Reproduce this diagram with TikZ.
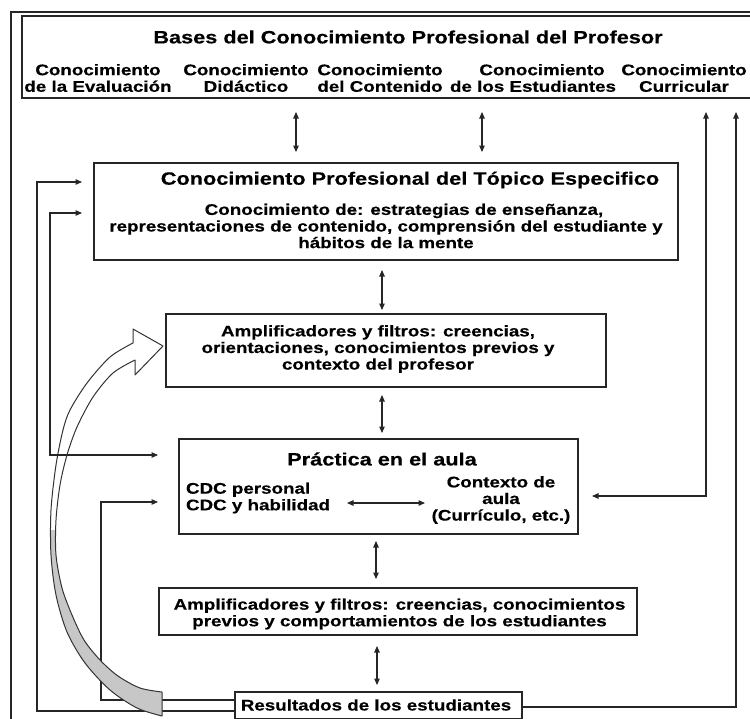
\documentclass[tikz,border=0pt]{standalone}
\usepackage{fontspec}
\setmainfont{Liberation Sans}[FakeStretch=1.22, BoldFeatures={FakeBold=0.4}]
\usetikzlibrary{arrows.meta}
\begin{document}
\begin{tikzpicture}[x=1pt,y=-1pt,
  every node/.style={inner sep=0pt, outer sep=0pt},
  box/.style={draw=black!85, line width=1.1pt, rectangle},
  txt/.style={font=\bfseries\fontsize{15.4}{16.6}\selectfont, align=center, text=black},
  ttl/.style={font=\bfseries\fontsize{17.8}{20}\selectfont, text=black},
  conn/.style={draw=black!85, line width=1.1pt},
  arr/.style={conn, -{Triangle[length=6.5pt,width=5.5pt]}},
  dbl/.style={conn, {Triangle[length=6.5pt,width=5.5pt]}-{Triangle[length=6.5pt,width=5.5pt]}},
]
\useasboundingbox (0,0) rectangle (750,718);
\clip (0,0) rectangle (750,718);
\def\cvarrowshape{(163,346) -- (133,329) -- plot[smooth] coordinates {(133,343) (110,357) (87,383) (70,410) (63,430) (56,465) (51,510) (51,555) (56,595) (67,632) (85,663) (110,690) (137,708) (162,716)} -- plot[smooth] coordinates {(162,692) (140,688) (118,676) (100,660) (84,640) (72,615) (62,588) (56,555) (56,520) (60,485) (67,455) (77,427) (93,397) (113,373) (135,360)} -- (135,375) -- cycle}

% outer frame
\draw[conn] (11,12) rectangle (760,730);

% boxes
\node[box, minimum width=738pt, minimum height=82pt] (bases) at (391,57) {};
\node[box, minimum width=584pt, minimum height=97pt] (box1) at (386,211.5) {};
\node[box, minimum width=440pt, minimum height=73pt] (box2) at (386,350.5) {};
\node[box, minimum width=399pt, minimum height=95pt] (box3) at (378.5,486.5) {};
\node[box, minimum width=478pt, minimum height=47pt] (box4) at (398,611.5) {};
\node[box, minimum width=287pt, minimum height=27pt] (box5) at (378.5,705.5) {};

% texts
\node[ttl] (t0) at (408,37) {Bases del Conocimiento Profesional del Profesor};
\node[txt] (c1) at (98,78) {Conocimiento\\de la Evaluación};
\node[txt] (c2) at (246,78) {Conocimiento\\Didáctico};
\node[txt] (c3) at (380,78) {Conocimiento\\del Contenido};
\node[txt] (c4) at (533,78) {Conocimiento\hspace*{-18pt}\\de los Estudiantes};
\node[txt] (c5) at (684,78) {Conocimiento\\Curricular};
\node[ttl] (t1) at (410,180) {Conocimiento Profesional del Tópico Especifico};
\node[txt] (t1b) at (386,226) {Conocimiento de: estrategias de enseñanza,\hspace*{-36pt}\\representaciones de contenido, comprensión del estudiante y\\hábitos de la mente};
\node[txt] (t2) at (378,349) {Amplificadores y filtros: creencias,\\orientaciones, conocimientos previos y\\contexto del profesor};
\node[ttl] (t3) at (382,459) {Práctica en el aula};
\node[txt, align=left, anchor=west] (t3a) at (186,498) {CDC personal\\CDC y habilidad};
\node[txt] (t3b) at (501,500) {Contexto de\\aula\\(Currículo, etc.)};
\node[txt] (t4) at (399.5,614) {Amplificadores y filtros: creencias, conocimientos\\previos y comportamientos de los estudiantes};
\node[txt] (t5) at (376,705) {Resultados de los estudiantes};

% feedback lines behind the curved arrow
\draw[arr] ([yshift=-5.5pt]box5.west) -- (37,711) -- (37,182) -- ([xshift=-12pt,yshift=29.5pt]box1.west);
\draw[arr] ([yshift=5.5pt]box5.west) -- (101,700) -- (101,502) -- ([xshift=-21pt,yshift=-15.5pt]box3.west);

% curved hollow arrow
\fill[white] \cvarrowshape;
\begin{scope}
  \clip (0,530) rectangle (750,718);
  \fill[black!22] \cvarrowshape;
\end{scope}
\draw[draw=black!80, line width=1pt, line join=round] \cvarrowshape;

% other connectors
\draw[dbl] ([xshift=-12pt,yshift=-1.5pt]box1.west) -- (50,213) -- (50,455) -- ([xshift=-21pt,yshift=31.5pt]box3.west);
\draw[arr] ([yshift=-1.5pt]box5.east) -- (736,707) -- (736,112);
\draw[dbl] ([xshift=14pt,yshift=-9.5pt]box3.east) -- (706,496) -- (706,112);

\draw[dbl, shorten <=14pt, shorten >=11pt] (bases.south -| 296,0) -- (box1.north -| 296,0);
\draw[dbl, shorten <=14pt, shorten >=11pt] (bases.south -| 482,0) -- (box1.north -| 482,0);
\draw[dbl, shorten <=10pt, shorten >=4pt] (box1.south -| 382,0) -- (box2.north -| 382,0);
\draw[dbl, shorten <=8pt, shorten >=6pt] (box2.south -| 382,0) -- (box3.north -| 382,0);
\draw[dbl, shorten <=7pt, shorten >=9pt] (box3.south -| 376,0) -- (box4.north -| 376,0);
\draw[dbl, shorten <=11pt, shorten >=7pt] (box4.south -| 377,0) -- (box5.north -| 377,0);

\coordinate (ia) at (347,503);
\coordinate (ib) at (425,503);
\draw[dbl] (ia) -- (ib);
\end{tikzpicture}
\end{document}
